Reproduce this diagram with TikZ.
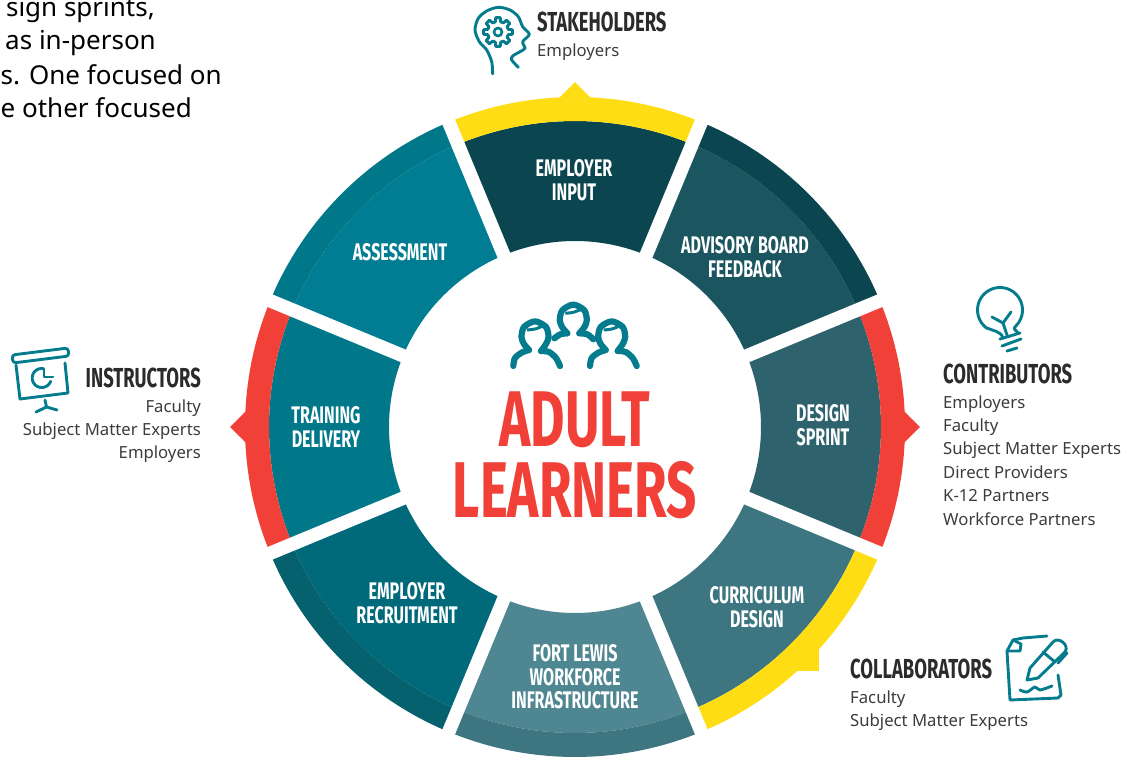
\documentclass[tikz,border=0pt]{standalone}
\usepackage{fontspec}
\usetikzlibrary{positioning}
\setmainfont{Noto Sans}
\newfontfamily\dinfont[FakeStretch=0.67]{Fira Sans}
\definecolor{inkdark}{HTML}{2B2A2C}
\definecolor{inksoft}{HTML}{3C3B3E}
\definecolor{teal}{HTML}{047C8E}
\definecolor{redband}{HTML}{F04037}
\definecolor{yellowband}{HTML}{FFDD15}
\definecolor{faceA}{HTML}{0B4650}
\definecolor{faceB}{HTML}{1A5560}
\definecolor{faceC}{HTML}{2E636E}
\definecolor{faceD}{HTML}{3D7580}
\definecolor{faceE}{HTML}{4E8691}
\definecolor{faceF}{HTML}{006A7A}
\definecolor{faceG}{HTML}{04616D}
\definecolor{faceH}{HTML}{00788A}
\definecolor{faceI}{HTML}{007D92}
\tikzset{seg/.style={white,inner sep=0pt,align=center,font=\dinfont\fontsize{24}{23.5}\selectfont\bfseries}}
\tikzset{head/.style={inkdark,inner sep=0pt,font=\dinfont\fontsize{27.5}{27}\selectfont\bfseries}}
\tikzset{sublist/.style={inksoft,inner sep=0pt,font=\fontsize{16.7}{23.4}\selectfont}}
\tikzset{intro/.style={black,inner sep=0pt,anchor=base east,font=\fontsize{26}{26}\selectfont}}
\tikzset{big/.style={redband,inner sep=0pt,font=\dinfont\fontsize{79}{79}\selectfont\bfseries}}
\tikzset{iconline/.style={teal,line width=2.9pt,line cap=round,line join=round}}
\tikzset{crowd/.style={teal,line width=6.2pt,line cap=round,line join=round}}
\tikzset{gap/.style={white,line width=13.5pt}}
\begin{document}
\begin{tikzpicture}[x=1pt,y=-1pt]
\useasboundingbox (0,0) rectangle (1136,757);

\node[intro] (introA) at (155,17) {sign sprints,};
\node[intro] (introB) at (156,50) {as in-person};
\node[intro] (introC) at (222,85) {s. One focused on};
\node[intro] (introD) at (192,118) {e other focused};

\begin{scope}[shift={(575,427)}]
% wheel
\foreach \ang/\band/\face in {-90/yellowband/faceA,-45/faceA/faceB,0/redband/faceC,45/yellowband/faceD,90/faceD/faceE,135/faceG/faceF,180/redband/faceH,225/faceH/faceI} {
  \fill[\face] plot[domain=\ang-22.5:\ang+22.5,samples=40] (\x:186) -- plot[domain=\ang+22.5:\ang-22.5,samples=40] (\x:306) -- cycle;
  \fill[\band] plot[domain=\ang-22.5:\ang+22.5,samples=40] (\x:306) -- plot[domain=\ang+22.5:\ang-22.5,samples=40] (\x:330) -- cycle;
}
\foreach \ang/\band in {-90/yellowband,0/redband,45/yellowband,180/redband} {
  \fill[\band] (\ang-3:328) -- (\ang:345) -- (\ang+3:328) -- cycle;
}
\foreach \ang in {22.5,67.5,...,337.5} {
  \draw[gap] (\ang:170) -- (\ang:350);
}
\end{scope}

\node[seg] (input) at (574,180) {EMPLOYER\\INPUT};
\node[seg] (advisory) at (745,257) {ADVISORY BOARD\\FEEDBACK};
\node[seg] (sprint) at (823,425) {DESIGN\\SPRINT};
\node[seg] (curriculum) at (757,607) {CURRICULUM\\DESIGN};
\node[seg] (fortlewis) at (575,677) {FORT LEWIS\\WORKFORCE\\INFRASTRUCTURE};
\node[seg] (recruit) at (407,603) {EMPLOYER\\RECRUITMENT};
\node[seg] (delivery) at (326,427) {TRAINING\\DELIVERY};
\node[seg] (assess) at (400,252) {ASSESSMENT};

\node[big] (adult) at (575,420) {ADULT};
\node[big] (learners) at (575,490) {LEARNERS};

% people above the title
\foreach \px/\py in {535/335,611.7/335} {
  \begin{scope}[shift={(\px,\py)}]
  \draw[crowd] plot[smooth] coordinates {(-6,15) (-11,9) (-13.5,2) (-11,-8) (0,-13.7) (11,-8) (13.5,2) (11,9) (6,16)};
  \draw[crowd] plot[smooth] coordinates {(-21.7,31) (-20,23) (-13,17.5) (-6,15)};
  \draw[crowd] plot[smooth] coordinates {(6,16) (14,17) (21,23) (25,31)};
  \draw[teal,line width=3pt] plot[smooth] coordinates {(-8,-5) (0,-6) (8,-9)};
  \end{scope}
}
\begin{scope}[shift={(573.3,318.3)}]
\draw[crowd] plot[smooth] coordinates {(-6,15) (-11,9) (-13.5,2) (-11,-8) (0,-13.7) (11,-8) (13.5,2) (11,9) (6,15)};
\draw[crowd] plot[smooth] coordinates {(-6,15) (-13,16) (-19,20)};
\draw[crowd] plot[smooth] coordinates {(6,15) (14,16) (20,21)};
\draw[teal,line width=3pt] plot[smooth] coordinates {(-8,-5) (0,-6) (8,-9)};
\end{scope}

% stakeholders
\node[head,anchor=west] (stake) at (537,22) {STAKEHOLDERS};
\node[sublist,below=11pt of stake.south west,anchor=north west,align=left] (stakelist) {Employers};
\draw[iconline] plot[smooth] coordinates {(492.7,74) (491.7,61.7) (486.7,50) (479.3,41.7) (475,30) (478.3,18.3) (486.7,11) (498.3,7.3) (510,10) (518.3,16.7) (522.7,26.7) (529.3,34.3) (522.7,41.7) (525,48.3) (520,51.7) (512.7,56) (511.7,60) (518.3,67.3)};
\draw[iconline,shift={(498,32)}] (-9:14.5) \foreach \ang in {0,45,...,315} { -- (\ang-9:14.5) -- (\ang+9:14.5) -- (\ang+15:10.5) -- (\ang+30:10.5)} -- cycle;
\node[draw=teal,line width=2.6pt,circle,minimum size=8pt,inner sep=0pt] (gearhub) at (498,32) {};

% contributors
\node[head,anchor=west] (contrib) at (943,374) {CONTRIBUTORS};
\node[sublist,below=11pt of contrib.south west,anchor=north west,align=left] (contriblist) {Employers\\Faculty\\Subject Matter Experts\\Direct Providers\\K-12 Partners\\Workforce Partners};
\draw[iconline] (1003,338) .. controls (1001,331) and (993,331) .. (987,328) -- plot[domain=125:405,samples=40] ({1000+22.5*cos(\x)},{310+22.5*sin(\x)}) .. controls (1012,329) and (1016,330) .. (1018,333);
\coordinate (stem) at (1003,323);
\draw[iconline] (992,317) -- (stem) -- (1007,335);
\draw[iconline] (stem) -- (1011,312);
\draw[iconline] (1000,339) -- (1020,333);
\draw[iconline] (1002,346) -- (1021,339);
\draw[iconline] (1007,351) -- (1017,348);

% collaborators
\node[head,anchor=west] (collab) at (850,669) {COLLABORATORS};
\node[sublist,below=11pt of collab.south west,anchor=north west,align=left] (collablist) {Faculty\\Subject Matter Experts};
\draw[iconline] (1047,636) -- (1023,638) -- (1013,640) -- (1007,651) -- (1010,700) -- (1058,698) -- (1061,695) -- (1058,675);
\draw[iconline] (1013,640) -- (1021,644) -- (1020,651) -- (1007,651);
\draw[iconline] (1027,680) -- (1030,668) -- (1053,642) .. controls (1058,636) and (1070,645) .. (1065,652) -- (1038,678) -- cycle;
\draw[iconline] (1043,652) -- (1055,662);
\draw[iconline] (1067,653) -- (1058,663);
\draw[iconline] plot[smooth] coordinates {(1020,690) (1027,692) (1035,687) (1040,690) (1052,686)};

% instructors
\node[head,anchor=east] (instruct) at (201,378) {INSTRUCTORS};
\node[sublist,below=11pt of instruct.south east,anchor=north east,align=right] (instructlist) {Faculty\\Subject Matter Experts\\Employers};
\draw[iconline,rounded corners=3pt] (12,355) -- (68,348) -- (69,356) -- (13,363) -- cycle;
\draw[iconline] (16,365) -- (20,399) -- (68,393) -- (65,363);
\draw[iconline] (45,400) -- (46.5,407);
\draw[iconline] (36,412) -- (46.5,407) -- (57,410);
\draw[iconline] plot[domain=-80:-340,samples=30] ({41.7+9.5*cos(\x)},{378+9.5*sin(\x)});
\draw[iconline] (44,369) -- (44,377) -- (53,377);
\end{tikzpicture}
\end{document}
